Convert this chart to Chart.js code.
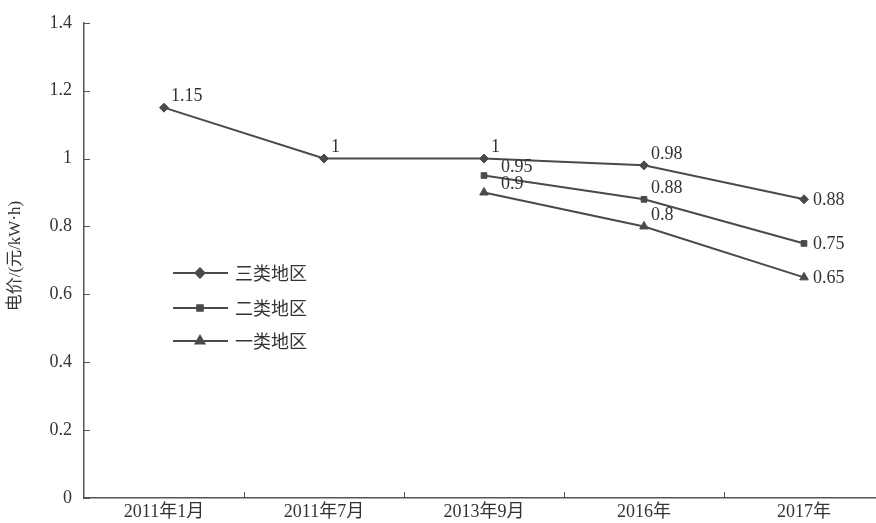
<!DOCTYPE html>
<html>
<head>
<meta charset="utf-8">
<script src="https://cdn.jsdelivr.net/npm/chart.js@4/dist/chart.umd.min.js"></script>
<style>
html,body{margin:0;padding:0;background:#fff;overflow:hidden;width:876px;height:523px;}
canvas{display:block;}
</style>
</head>
<body>
<canvas id="c" width="890" height="523"></canvas>
<script>
const categories = ['2011年1月', '2011年7月', '2013年9月', '2016年', '2017年'];
const seriesNames = ['三类地区', '二类地区', '一类地区'];
const region3 = [1.15, 1, 1, 0.98, 0.88];
const region2 = [null, null, 0.95, 0.88, 0.75];
const region1 = [null, null, 0.9, 0.8, 0.65];
const yTickLabels = ['0', '0.2', '0.4', '0.6', '0.8', '1', '1.2', '1.4'];
const yTitle = '电价/(元/kW·h)';

const FONT = '"Liberation Serif", "Noto Sans CJK SC", serif';
const LINE = '#4a4a4a';
const TEXT = '#333333';

const decorPlugin = {
  id: 'decor',
  afterDraw(chart) {
    const ctx = chart.ctx;
    const xs = chart.scales.x, ys = chart.scales.y;
    const area = chart.chartArea;
    ctx.save();
    // inner tick marks
    ctx.strokeStyle = '#555';
    ctx.lineWidth = 1;
    const half = (xs.getPixelForValue(1) - xs.getPixelForValue(0)) / 2;
    for (let i = 1; i < categories.length; i++) {
      const px = Math.round(xs.getPixelForValue(i) - half) + 0.5;
      ctx.beginPath(); ctx.moveTo(px, area.bottom); ctx.lineTo(px, area.bottom - 6); ctx.stroke();
    }
    ys.ticks.forEach(t => {
      const py = Math.round(ys.getPixelForValue(t.value)) + 0.5;
      ctx.beginPath(); ctx.moveTo(area.left, py); ctx.lineTo(area.left + 6, py); ctx.stroke();
    });
    // y title
    ctx.save();
    ctx.translate(16, 256);
    ctx.rotate(-Math.PI / 2);
    ctx.fillStyle = TEXT;
    ctx.font = '17px ' + FONT;
    ctx.textAlign = 'center';
    ctx.textBaseline = 'middle';
    ctx.fillText(yTitle, 0, 0);
    ctx.restore();
    // data labels
    ctx.fillStyle = TEXT;
    ctx.font = '18px ' + FONT;
    ctx.textAlign = 'left';
    ctx.textBaseline = 'middle';
    chart.data.datasets.forEach((ds, di) => {
      const meta = chart.getDatasetMeta(di);
      meta.data.forEach((pt, i) => {
        const v = ds.data[i];
        if (v === null || v === undefined) return;
        const label = String(v);
        if (i === categories.length - 1) {
          ctx.fillText(label, pt.x + 9, pt.y + 1);
        } else if (di > 0 && i === 2) {
          ctx.fillText(label, pt.x + 17, pt.y - 8);
        } else {
          ctx.fillText(label, pt.x + 7, pt.y - 11);
        }
      });
    });
    // legend
    const rows = [273, 308, 341];
    chart.data.datasets.forEach((ds, di) => {
      const y = rows[di];
      ctx.strokeStyle = LINE;
      ctx.lineWidth = 2;
      ctx.beginPath(); ctx.moveTo(173, y); ctx.lineTo(228, y); ctx.stroke();
      ctx.fillStyle = LINE;
      Chart.helpers.drawPoint(ctx, {pointStyle: ds.pointStyle, radius: ds.pointRadius, borderWidth: 1, rotation: 0}, 200, y);
      ctx.fill();
      ctx.fillStyle = TEXT;
      ctx.font = '18px "Noto Sans CJK SC", serif';
      ctx.textAlign = 'left';
      ctx.textBaseline = 'middle';
      ctx.fillText(ds.label, 235, y);
    });
    ctx.restore();
  }
};

const mk = (label, data, style, r) => ({
  label, data,
  borderColor: LINE, backgroundColor: LINE,
  pointBackgroundColor: LINE, pointBorderColor: LINE,
  borderWidth: 2, pointStyle: style, pointRadius: r, pointBorderWidth: 1,
  tension: 0, fill: false
});

new Chart(document.getElementById('c'), {
  type: 'line',
  data: {
    labels: categories,
    datasets: [
      mk(seriesNames[0], region3, 'rectRot', 4.5),
      mk(seriesNames[1], region2, 'rect', 4),
      mk(seriesNames[2], region1, 'triangle', 5)
    ]
  },
  options: {
    responsive: false,
    animation: false,
    layout: {padding: {top: 20, right: 0, left: 0, bottom: 0}},
    plugins: {legend: {display: false}, tooltip: {enabled: false}},
    scales: {
      x: {
        type: 'category',
        offset: true,
        grid: {display: false, drawTicks: false},
        border: {color: '#555', width: 1.5},
        ticks: {color: TEXT, font: {family: FONT, size: 18}, padding: 3, maxRotation: 0},
        afterFit(s) { s.height = 25; }
      },
      y: {
        min: 0, max: 1.4,
        grid: {display: false, drawTicks: false},
        border: {color: '#555', width: 1.5},
        ticks: {
          stepSize: 0.2, color: TEXT, font: {family: FONT, size: 18}, padding: 12,
          callback: (v) => yTickLabels[Math.round(v / 0.2)]
        },
        afterFit(s) { s.width = 84; }
      }
    }
  },
  plugins: [decorPlugin]
});
</script>
</body>
</html>
